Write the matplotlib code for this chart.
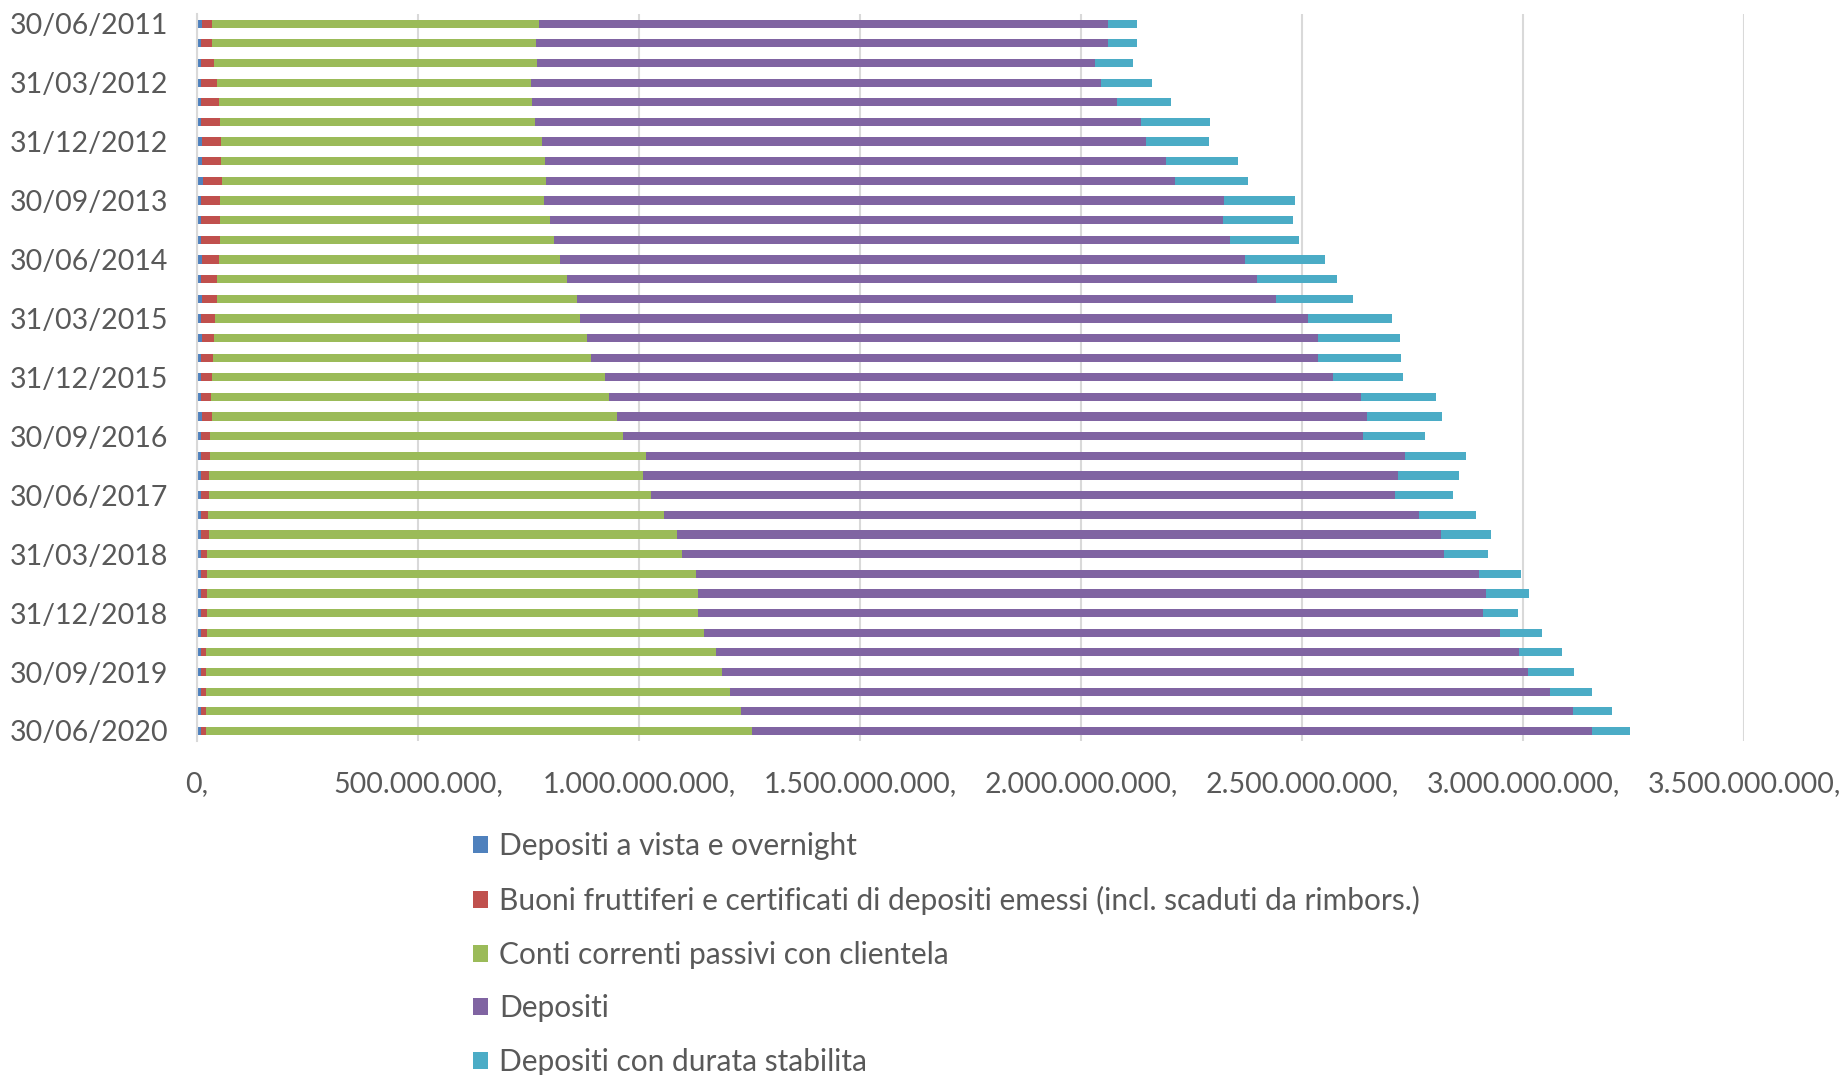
import numpy as np
import pandas as pd
import matplotlib
matplotlib.use("Agg")
import matplotlib.pyplot as plt
from matplotlib.patches import Patch
from matplotlib.ticker import FuncFormatter, MultipleLocator

plt.rcParams['font.family'] = ['Lato', 'DejaVu Sans']

# ------------------------------------------------------------
# Dati (milioni di euro), trimestrali 30/06/2011 - 30/06/2020
# ------------------------------------------------------------
dates = pd.date_range("2011-06-30", "2020-06-30", freq="QE")
date_labels = [d.strftime("%d/%m/%Y") for d in dates]

vista_overnight = [12, 9, 9, 8, 10, 10, 12, 12, 13, 10,
                   10, 10, 11, 10, 11, 10, 11, 9, 10, 8,
                   12, 8, 9, 9, 10, 9, 9, 8, 9, 9,
                   9, 9, 9, 9, 9, 9, 9]
buoni_fruttiferi = [22, 25, 30, 37, 40, 41, 42, 42, 44, 42,
                    42, 41, 39, 36, 34, 31, 28, 27, 24, 23,
                    22, 21, 20, 18, 17, 16, 17, 14, 14, 14,
                    13, 14, 11, 11, 11, 11, 11]
conti_correnti = [739, 732, 730, 710, 707, 713, 726, 733, 732, 733,
                  747, 757, 772, 791, 815, 826, 844, 855, 889, 901,
                  915, 934, 987, 983, 1001, 1032, 1060, 1075, 1105, 1111,
                  1111, 1124, 1154, 1168, 1186, 1210, 1235]
depositi = [1288, 1295, 1262, 1289, 1325, 1372, 1368, 1406, 1423, 1538,
            1523, 1530, 1548, 1561, 1582, 1647, 1652, 1646, 1648, 1701,
            1699, 1675, 1718, 1707, 1683, 1707, 1729, 1725, 1772, 1783,
            1776, 1800, 1816, 1824, 1855, 1884, 1900]
durata_stabilita = [66, 66, 87, 117, 121, 155, 142, 162, 165, 161,
                    158, 156, 181, 181, 173, 190, 186, 186, 158, 170,
                    168, 140, 137, 138, 131, 130, 113, 99, 96, 97,
                    80, 96, 97, 103, 94, 88, 86]

series = [
    ("Depositi a vista e overnight", vista_overnight, "#4F81BD"),
    ("Buoni fruttiferi e certificati di depositi emessi (incl. scaduti da rimbors.)",
     buoni_fruttiferi, "#C0504D"),
    ("Conti correnti passivi con clientela", conti_correnti, "#9BBB59"),
    ("Depositi", depositi, "#8064A2"),
    ("Depositi con durata stabilita", durata_stabilita, "#4BACC6"),
]

# ------------------------------------------------------------
# Grafico
# ------------------------------------------------------------
fig = plt.figure(figsize=(18.45, 10.75), dpi=100)
ax = fig.add_axes([0.1068, 0.3109, 0.8385, 0.6762])

y = np.arange(len(date_labels))
left = np.zeros(len(date_labels))
for name, values, color in series:
    vals = np.array(values, dtype=float) * 1e6
    ax.barh(y, vals, left=left, height=0.42, color=color, linewidth=0, label=name)
    left += vals

ax.set_xlim(0, 3.5e9)
ax.set_ylim(len(date_labels) - 0.5, -0.5)

ax.xaxis.set_major_locator(MultipleLocator(5e8))
ax.xaxis.set_major_formatter(FuncFormatter(lambda v, p: f"{int(round(v)):,}".replace(",", ".") + ","))
ax.set_yticks(y[::3])
ax.set_yticklabels(date_labels[::3])

ax.grid(axis="x", color="#d9d9d9", linewidth=1.5)
ax.set_axisbelow(True)
for s in ["top", "right", "bottom"]:
    ax.spines[s].set_visible(False)
ax.spines["left"].set_color("#d9d9d9")
ax.spines["left"].set_linewidth(1.5)

ax.tick_params(axis="both", length=0, labelsize=20.5, labelcolor="#595959")
ax.tick_params(axis="y", pad=21)
ax.tick_params(axis="x", pad=22)

handles = [Patch(facecolor=c, edgecolor="none") for _, _, c in series]
labels = [n for n, _, _ in series]
fig.legend(handles, labels, loc="upper left", bbox_to_anchor=(0.2566, 0.2258),
           frameon=False, fontsize=21.5, labelcolor="#595959",
           handlelength=0.5, handleheight=0.5, handletextpad=0.37,
           labelspacing=0.86, borderaxespad=0, borderpad=0)

fig.savefig("out.png", dpi=100)
